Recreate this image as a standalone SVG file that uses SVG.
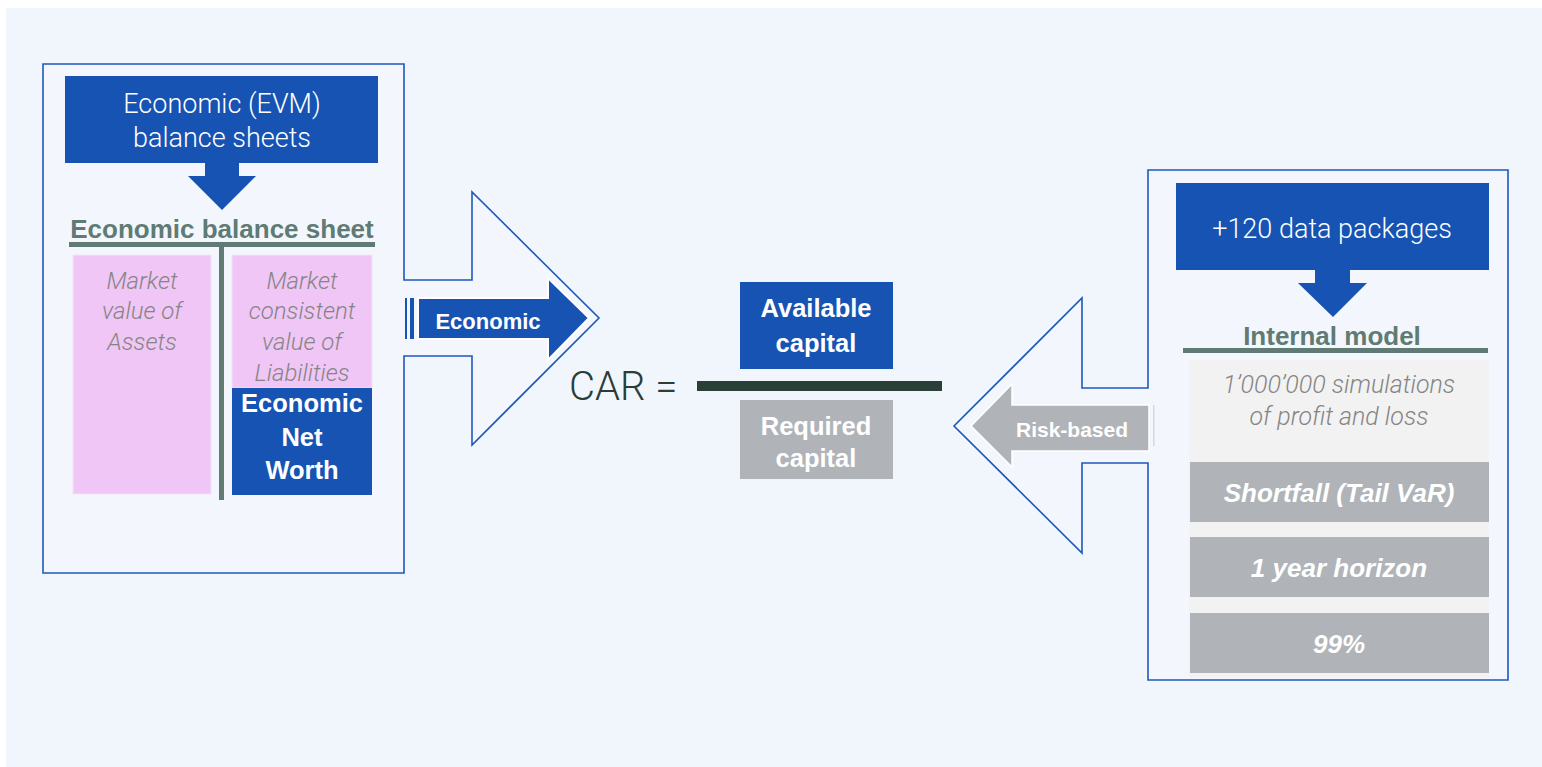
<svg xmlns="http://www.w3.org/2000/svg" width="1542" height="767" viewBox="0 0 1542 767">
<style>
.outline{fill:#f3f7fd;stroke:#1d58ba;stroke-width:1.6}
.blue{fill:#1653b3}
.gray{fill:#b0b4b8}
.pink{fill:#f0c6f6;stroke:#f3e2f5;stroke-width:1}
.rule{fill:#5f7b73}
.light{font-family:Roboto,"Liberation Sans",sans-serif;font-weight:300;fill:#ffffff;text-anchor:middle;font-size:27px}
.bold{font-family:"Liberation Sans",Arial,sans-serif;font-weight:bold;fill:#ffffff;text-anchor:middle}
.head{font-family:"Liberation Sans",Arial,sans-serif;font-weight:bold;fill:#5f7b73;text-anchor:middle;font-size:26px}
.ital{font-family:Roboto,"Liberation Sans",sans-serif;font-weight:300;font-style:italic;fill:#858585;text-anchor:middle;font-size:24px}
.ital2{font-family:Roboto,"Liberation Sans",sans-serif;font-weight:300;font-style:italic;fill:#858585;text-anchor:middle;font-size:25px}
.bi{font-family:"Liberation Sans",Arial,sans-serif;font-weight:bold;font-style:italic;fill:#ffffff;text-anchor:middle;font-size:26px}
</style>
<rect x="0" y="0" width="1542" height="767" fill="#ffffff"/>
<rect x="6" y="8" width="1536" height="759" fill="#f1f6fd"/>

<g id="connectors">
  <path class="outline" d="M43,64 H404 V280 H472 V192 L599,318 L472,445 V356 H404 V573 H43 Z"/>
  <path class="outline" d="M1148,170 H1508 V680 H1148 V463 H1082 V553 L954,426 L1082,298 V388 H1148 Z"/>
</g>

<g id="evm-source">
  <rect class="blue" x="65" y="76" width="313" height="87"/>
  <text class="light" x="222" y="113">Economic (EVM)</text>
  <text class="light" x="222" y="147">balance sheets</text>
  <path class="blue" d="M205,163 H239 V176 H256 L222,210 L188,176 H205 Z"/>
</g>

<g id="economic-balance-sheet">
  <text class="head" x="222" y="238">Economic balance sheet</text>
  <rect class="rule" x="69" y="242" width="306" height="5"/>
  <rect class="rule" x="219" y="244" width="5" height="256"/>
  <rect class="pink" x="73" y="255" width="138" height="239"/>
  <text class="ital" x="142" y="289">Market</text>
  <text class="ital" x="142" y="319">value of</text>
  <text class="ital" x="142" y="350">Assets</text>
  <rect class="pink" x="232" y="255" width="140" height="133"/>
  <text class="ital" x="302" y="289">Market</text>
  <text class="ital" x="302" y="319">consistent</text>
  <text class="ital" x="302" y="350">value of</text>
  <text class="ital" x="302" y="381">Liabilities</text>
  <rect class="blue" x="232" y="388" width="140" height="107"/>
  <text class="bold" x="302" y="412" font-size="25.5">Economic</text>
  <text class="bold" x="302" y="446" font-size="25.5">Net</text>
  <text class="bold" x="302" y="479" font-size="25.5">Worth</text>
</g>

<g id="economic-arrow">
  <rect class="blue" x="405" y="298" width="2" height="41"/>
  <rect class="blue" x="410" y="298" width="4" height="41"/>
  <path d="M418,298 H548 V278 L589,318 L548,360 V339 H418 Z" class="blue" stroke="#ffffff" stroke-width="2"/>
  <text class="bold" x="488" y="329" font-size="22">Economic</text>
</g>

<g id="car">
  <text x="569" y="400" font-family="Roboto,'Liberation Sans',sans-serif" font-weight="300" font-size="40" fill="#2b3d36">CAR =</text>
  <rect x="697" y="381" width="245" height="10" fill="#2a3f37"/>
  <rect class="blue" x="740" y="282" width="153" height="87"/>
  <text class="bold" x="816" y="317" font-size="25.5">Available</text>
  <text class="bold" x="816" y="352" font-size="25.5">capital</text>
  <rect class="gray" x="740" y="400" width="153" height="79"/>
  <text class="bold" x="816" y="435" font-size="25.5">Required</text>
  <text class="bold" x="816" y="467" font-size="25.5">capital</text>
</g>

<g id="risk-arrow">
  <path d="M1149,405 H1012 V384 L971,426 L1012,467 V451 H1149 Z" class="gray" stroke="#ffffff" stroke-width="1.5"/>
  <rect x="1153" y="405" width="1.5" height="41" fill="#d6d9dc"/>
  <text class="bold" x="1072" y="437" font-size="21">Risk-based</text>
</g>

<g id="data-packages">
  <rect class="blue" x="1176" y="183" width="313" height="87"/>
  <text class="light" x="1332" y="238">+120 data packages</text>
  <path class="blue" d="M1315,270 H1350 V283 H1367 L1333,317 L1298,283 H1315 Z"/>
</g>

<g id="internal-model">
  <text class="head" x="1332" y="345">Internal model</text>
  <rect class="rule" x="1183" y="348" width="305" height="5"/>
  <rect x="1189" y="360" width="300" height="318" fill="#f2f2f2"/>
  <text class="ital2" x="1339" y="393">1’000’000 simulations</text>
  <text class="ital2" x="1339" y="425">of profit and loss</text>
  <rect class="gray" x="1190" y="462" width="299" height="60"/>
  <text class="bi" x="1339" y="502">Shortfall (Tail VaR)</text>
  <rect class="gray" x="1190" y="537" width="299" height="60"/>
  <text class="bi" x="1339" y="577">1 year horizon</text>
  <rect class="gray" x="1190" y="613" width="299" height="60"/>
  <text class="bi" x="1339" y="653">99%</text>
</g>
</svg>
